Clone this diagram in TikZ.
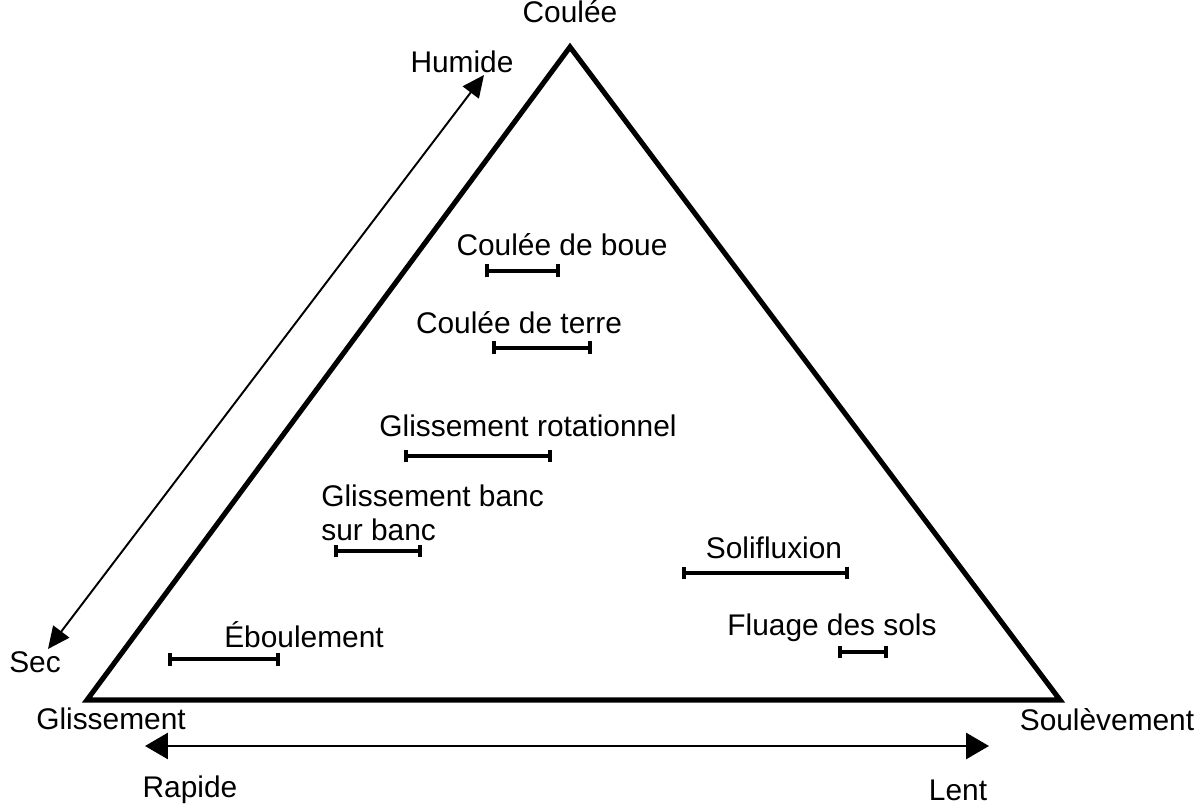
\documentclass[tikz,border=0pt]{standalone}
\usepackage{fontspec}
\setmainfont{Liberation Sans}
\usetikzlibrary{arrows.meta,positioning}

\begin{document}
\begin{tikzpicture}[x=0.02cm,y=-0.02cm,
    txt/.style={font=\fontsize{17}{19.3}\selectfont, inner sep=0pt},
    tri/.style={line width=2.9pt, line join=miter},
    spanbar/.style={line width=2pt, {Bar[width=0.26cm]}-{Bar[width=0.26cm]}},
    speedaxis/.style={line width=1.7pt, {Triangle[length=0.46cm,width=0.52cm]}-{Triangle[length=0.46cm,width=0.52cm]}},
    wetaxis/.style={line width=1.1pt, {Triangle[length=0.44cm,width=0.4cm]}-{Triangle[length=0.44cm,width=0.4cm]}}]
    \useasboundingbox (0,0) rectangle (1204,807);
    % triangle
    \coordinate (top) at (570,47);
    \coordinate (gl) at (87,700);
    \coordinate (so) at (1060,700);
    \draw[tri] (top) -- (gl) -- (so) -- cycle;
    \node[txt] (coulee) at (570,12) {Coulée};
    \node[txt] (gliss) at (111,719) {Glissement};
    \node[txt] (soul) at (1107,720) {Soulèvement};
    % speed axis
    \coordinate (rap) at (145,746);
    \coordinate (len) at (989,746);
    \draw[speedaxis] (rap) -- (len);
    \node[txt] (rapide) at (190,790) {Rapide};
    \node[txt] (lent) at (958,790) {Lent};
    % humidity axis
    \coordinate (sec) at (48,649);
    \coordinate (hum) at (484,75);
    \draw[wetaxis] (sec) -- (hum);
    \node[txt] (humide) at (462,62) {Humide};
    \node[txt] (seclab) at (35,662) {Sec};
    % ranges
    \node[txt] (boue) at (562,245) {Coulée de boue};
    \draw[spanbar] (485,271) coordinate (boueL) -- (560,271) coordinate (boueR);
    \node[txt] (terre) at (519,323) {Coulée de terre};
    \draw[spanbar] (492,348) coordinate (terreL) -- (592,348) coordinate (terreR);
    \node[txt] (rot) at (528,426) {Glissement rotationnel};
    \draw[spanbar] (404,456) coordinate (rotL) -- (552,456) coordinate (rotR);
    \node[txt, align=left, anchor=north west] (banc) at (321,485) {Glissement banc\\sur banc};
    \draw[spanbar] (334,551) coordinate (bancL) -- (422,551) coordinate (bancR);
    \node[txt] (soli) at (774,548) {Solifluxion};
    \draw[spanbar] (682,573) coordinate (soliL) -- (849,573) coordinate (soliR);
    \node[txt] (fluage) at (832,628) {Fluage des sols};
    \draw[spanbar] (838,652) coordinate (fluL) -- (888,652) coordinate (fluR);
    \node[txt] (ebou) at (304,635) {Éboulement};
    \draw[spanbar] (168,659) coordinate (ebL) -- (280,659) coordinate (ebR);
\end{tikzpicture}
\end{document}
